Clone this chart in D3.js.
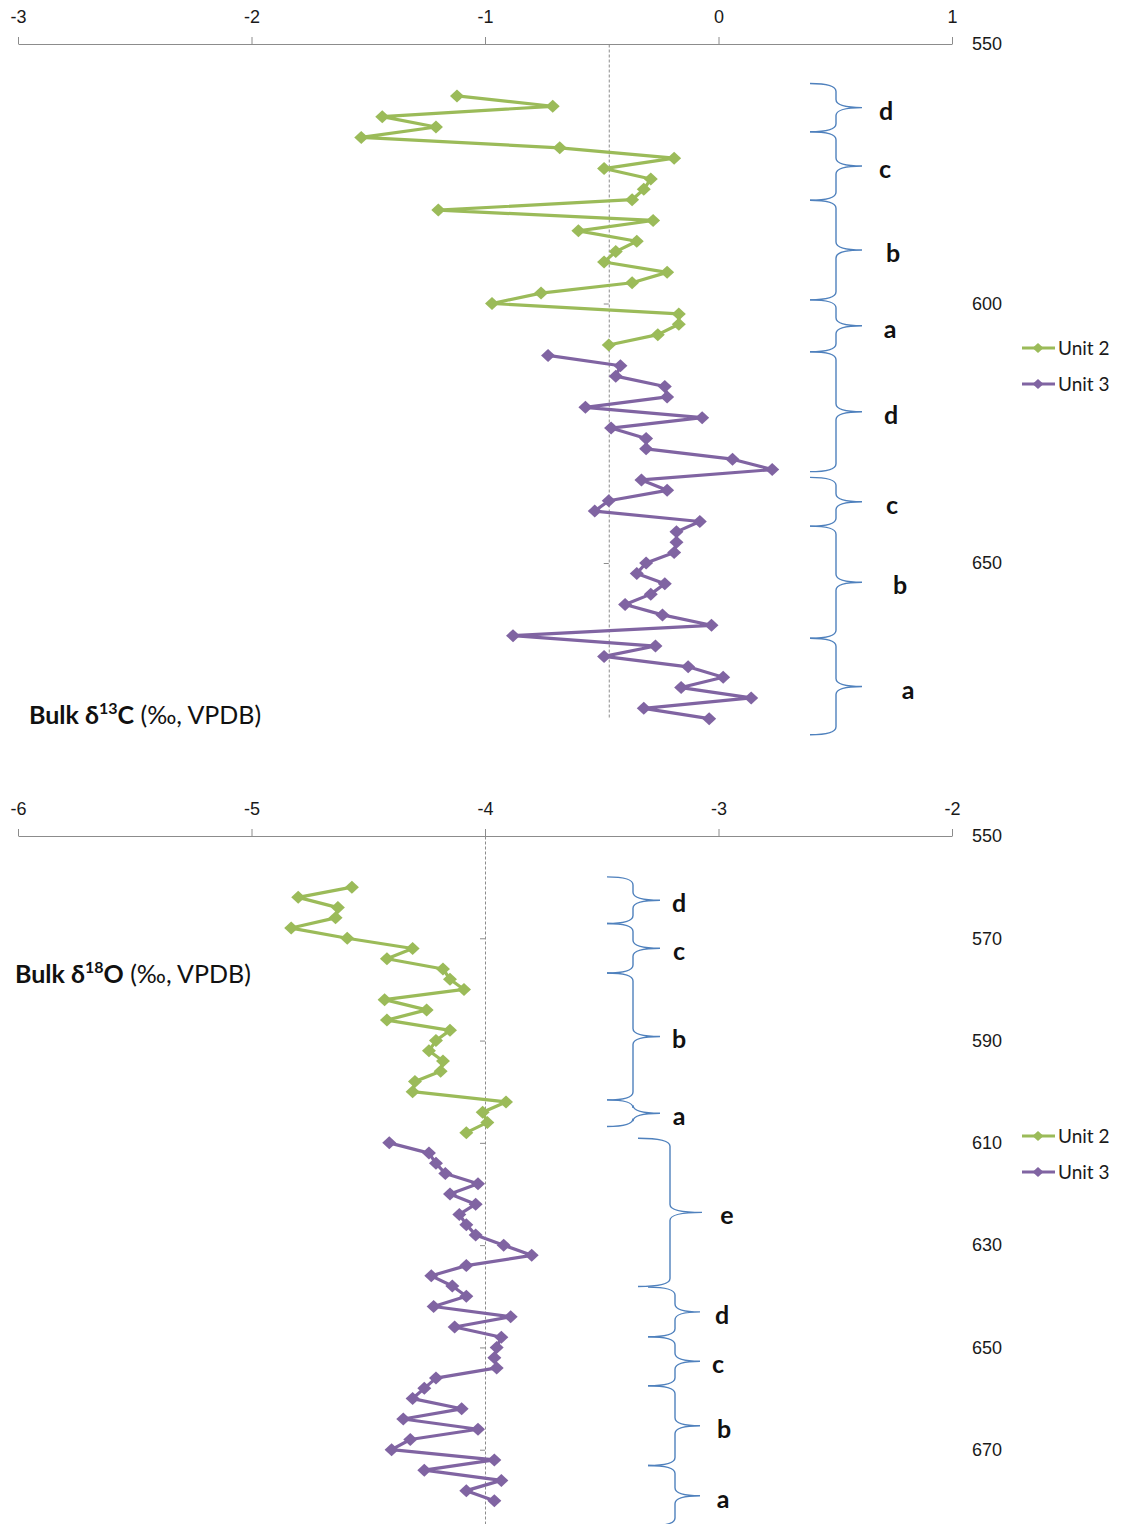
<!DOCTYPE html>
<html>
<head>
<meta charset="utf-8">
<script src="https://cdn.jsdelivr.net/npm/d3@7"></script>
<style>
  html, body { margin: 0; padding: 0; background: #fff; }
  svg { display: block; font-family: Lato, "Open Sans", sans-serif; }
</style>
</head>
<body>
<script>
// depths (cm) of the samples
const depthUnit2 = [560, 562, 564, 566, 568, 570, 572, 574, 576, 578, 580, 582, 584, 586, 588, 590, 592, 594, 596, 598, 600, 602, 604, 606, 608];
const depthUnit3 = [610, 612, 614, 616, 618, 620, 622, 624, 626, 628, 630, 632, 634, 636, 638, 640, 642, 644, 646, 648, 650, 652, 654, 656, 658, 660, 662, 664, 666, 668, 670, 672, 674, 676, 678, 680];

// bulk d13C
const c13Unit2 = [-1.12, -0.71, -1.44, -1.21, -1.53, -0.68, -0.19, -0.49, -0.29, -0.32, -0.37, -1.20, -0.28, -0.60, -0.35, -0.44, -0.49, -0.22, -0.37, -0.76, -0.97, -0.17, -0.17, -0.26, -0.47];
const c13Unit3 = [-0.73, -0.42, -0.44, -0.23, -0.22, -0.57, -0.07, -0.46, -0.31, -0.31, 0.06, 0.23, -0.33, -0.22, -0.47, -0.53, -0.08, -0.18, -0.18, -0.19, -0.31, -0.35, -0.23, -0.29, -0.40, -0.24, -0.03, -0.88, -0.27, -0.49, -0.13, 0.02, -0.16, 0.14, -0.32, -0.04];

// bulk d18O
const o18Unit2 = [-4.57, -4.80, -4.63, -4.64, -4.83, -4.59, -4.31, -4.42, -4.18, -4.15, -4.09, -4.43, -4.25, -4.42, -4.15, -4.21, -4.24, -4.18, -4.19, -4.30, -4.31, -3.91, -4.01, -3.99, -4.08];
const o18Unit3 = [-4.41, -4.24, -4.21, -4.17, -4.03, -4.15, -4.04, -4.11, -4.08, -4.04, -3.92, -3.80, -4.08, -4.23, -4.14, -4.08, -4.22, -3.89, -4.13, -3.93, -3.95, -3.96, -3.95, -4.21, -4.26, -4.31, -4.10, -4.35, -4.03, -4.32, -4.40, -3.96, -4.26, -3.93, -4.08, -3.96];

// axis ticks
const c13Ticks = [-3, -2, -1, 0, 1];
const o18Ticks = [-6, -5, -4, -3, -2];
const c13DepthTicks = [550, 600, 650];
const o18DepthTicks = [550, 570, 590, 610, 630, 650, 670];

// subunit brackets: [top depth, bottom depth, label]
const c13Brackets = [
  [557.6, 566.9, "d"], [566.9, 580.1, "c"], [580.1, 599.3, "b"], [599.3, 609.3, "a"],
  [609.3, 632.4, "d"], [633.5, 642.9, "c"], [642.9, 664.5, "b"], [664.5, 683.1, "a"]
];
const o18Brackets = [
  [558.0, 567.1, "d"], [567.1, 576.8, "c"], [576.8, 601.6, "b"], [601.6, 606.8, "a"],
  [609.1, 638.1, "e"], [638.2, 647.9, "d"], [647.9, 657.5, "c"], [657.5, 673.1, "b"], [673.1, 684.9, "a"]
];

const series = [
  {name: "Unit 2", color: "#9bbb59"},
  {name: "Unit 3", color: "#8064a2"}
];

const W = 1122, H = 1524;
const svg = d3.select("body").append("svg").attr("width", W).attr("height", H);

const diamond = "M0,-6.5L7,0L0,6.5L-7,0Z";

function panel(o) {
  const g = svg.append("g");
  const x = d3.scaleLinear().domain(o.xDomain).range([18, 952]);
  const y = d3.scaleLinear().domain(o.yDomain).range(o.yRange);

  // value axis along the top
  const ax = g.append("g").attr("transform", `translate(0,${o.yRange[0]})`)
    .call(d3.axisTop(x).tickValues(o.xTicks).tickSize(7).tickSizeOuter(0).tickPadding(14).tickFormat(d => String(d)));
  ax.select(".domain").attr("stroke", "#8c8c8c");
  ax.selectAll(".tick line").attr("stroke", "#8c8c8c");
  ax.selectAll("text").attr("font-size", 18).attr("fill", "#1a1a1a");

  // depth axis: dashed line crossing at o.cross, labels on the right
  const ay = g.append("g").attr("transform", `translate(${x(o.cross)},0)`)
    .call(d3.axisLeft(y).tickValues(o.yTicks).tickSize(5).tickSizeOuter(0).tickFormat(""));
  ay.select(".domain").attr("stroke", "#8c8c8c").attr("stroke-dasharray", "3,2");
  ay.selectAll(".tick line").attr("stroke", "#8c8c8c");

  const al = g.append("g").attr("transform", "translate(972,0)")
    .call(d3.axisRight(y).tickValues(o.yTicks).tickSize(0).tickPadding(0));
  al.select(".domain").remove();
  al.selectAll("text").attr("font-size", 18).attr("fill", "#1a1a1a");

  // brackets
  const b = o.brace;
  g.selectAll(".brace").data(o.brackets).enter().append("path")
    .attr("class", "brace")
    .attr("fill", "none").attr("stroke", "#4f81bd").attr("stroke-width", 1.4)
    .attr("d", (d, i) => {
      const p = b(i);
      const y0 = y(d[0]), y1 = y(d[1]), ym = (y0 + y1) / 2, r = 8;
      return `M${p.end},${y0}Q${p.spine},${y0} ${p.spine},${y0 + r}L${p.spine},${ym - r}` +
             `Q${p.spine},${ym} ${p.tip},${ym}Q${p.spine},${ym} ${p.spine},${ym + r}` +
             `L${p.spine},${y1 - r}Q${p.spine},${y1} ${p.end},${y1}`;
    });
  g.selectAll(".blabel").data(o.brackets).enter().append("text")
    .attr("x", (d, i) => b(i).label)
    .attr("y", d => (y(d[0]) + y(d[1])) / 2 + 12)
    .attr("text-anchor", "middle")
    .attr("font-size", 25).attr("font-weight", "bold").attr("fill", "#111")
    .text(d => d[2]);

  // series
  const line = d3.line().x(d => x(d[0])).y(d => y(d[1]));
  o.data.forEach((vals, k) => {
    const depths = k === 0 ? depthUnit2 : depthUnit3;
    const pts = vals.map((v, i) => [v, depths[i]]);
    g.append("path").datum(pts)
      .attr("fill", "none").attr("stroke", series[k].color).attr("stroke-width", 3.2)
      .attr("stroke-linejoin", "round").attr("d", line);
    g.selectAll(".pt" + k).data(pts).enter().append("path")
      .attr("d", diamond).attr("fill", series[k].color)
      .attr("transform", d => `translate(${x(d[0])},${y(d[1])})`);
  });

  // legend
  series.forEach((s, k) => {
    const ly = o.legendY + k * 36;
    g.append("line").attr("x1", 1022).attr("x2", 1055).attr("y1", ly).attr("y2", ly)
      .attr("stroke", s.color).attr("stroke-width", 3);
    g.append("path").attr("d", "M0,-5L5.5,0L0,5L-5.5,0Z").attr("fill", s.color)
      .attr("transform", `translate(1038,${ly})`);
    g.append("text").attr("x", 1058).attr("y", ly + 6.5).attr("font-size", 19).attr("fill", "#1a1a1a").text(s.name);
  });

  // title
  const t = g.append("text").attr("x", o.titleX).attr("y", o.titleY).attr("font-size", 25).attr("fill", "#111");
  t.append("tspan").attr("font-weight", "bold").text("Bulk δ");
  t.append("tspan").attr("font-weight", "bold").attr("font-size", 16).attr("dy", -10).text(o.iso);
  t.append("tspan").attr("font-weight", "bold").attr("dy", 10).text(o.el);
  t.append("tspan").text(" (‰, VPDB)");
}

panel({
  xDomain: [-3, 1], xTicks: c13Ticks,
  yDomain: [550, 680], yRange: [44, 718.7], yTicks: c13DepthTicks,
  cross: -0.47,
  data: [c13Unit2, c13Unit3],
  brackets: c13Brackets,
  brace: i => ({end: 810, spine: 836, tip: 862, label: [886, 885, 893, 890, 891, 892, 900, 908][i]}),
  legendY: 348,
  titleX: 29, titleY: 724, iso: "13", el: "C"
});

panel({
  xDomain: [-6, -2], xTicks: o18Ticks,
  yDomain: [550, 690], yRange: [836, 1552], yTicks: o18DepthTicks,
  cross: -4,
  data: [o18Unit2, o18Unit3],
  brackets: o18Brackets,
  brace: i => i < 4
    ? {end: 607, spine: 633, tip: 660, label: 679}
    : i === 4
      ? {end: 638, spine: 670, tip: 702, label: 727}
      : {end: 648, spine: 675, tip: 700, label: [722, 718, 724, 723][i - 5]},
  legendY: 1136,
  titleX: 15, titleY: 983, iso: "18", el: "O"
});
</script>
</body>
</html>
